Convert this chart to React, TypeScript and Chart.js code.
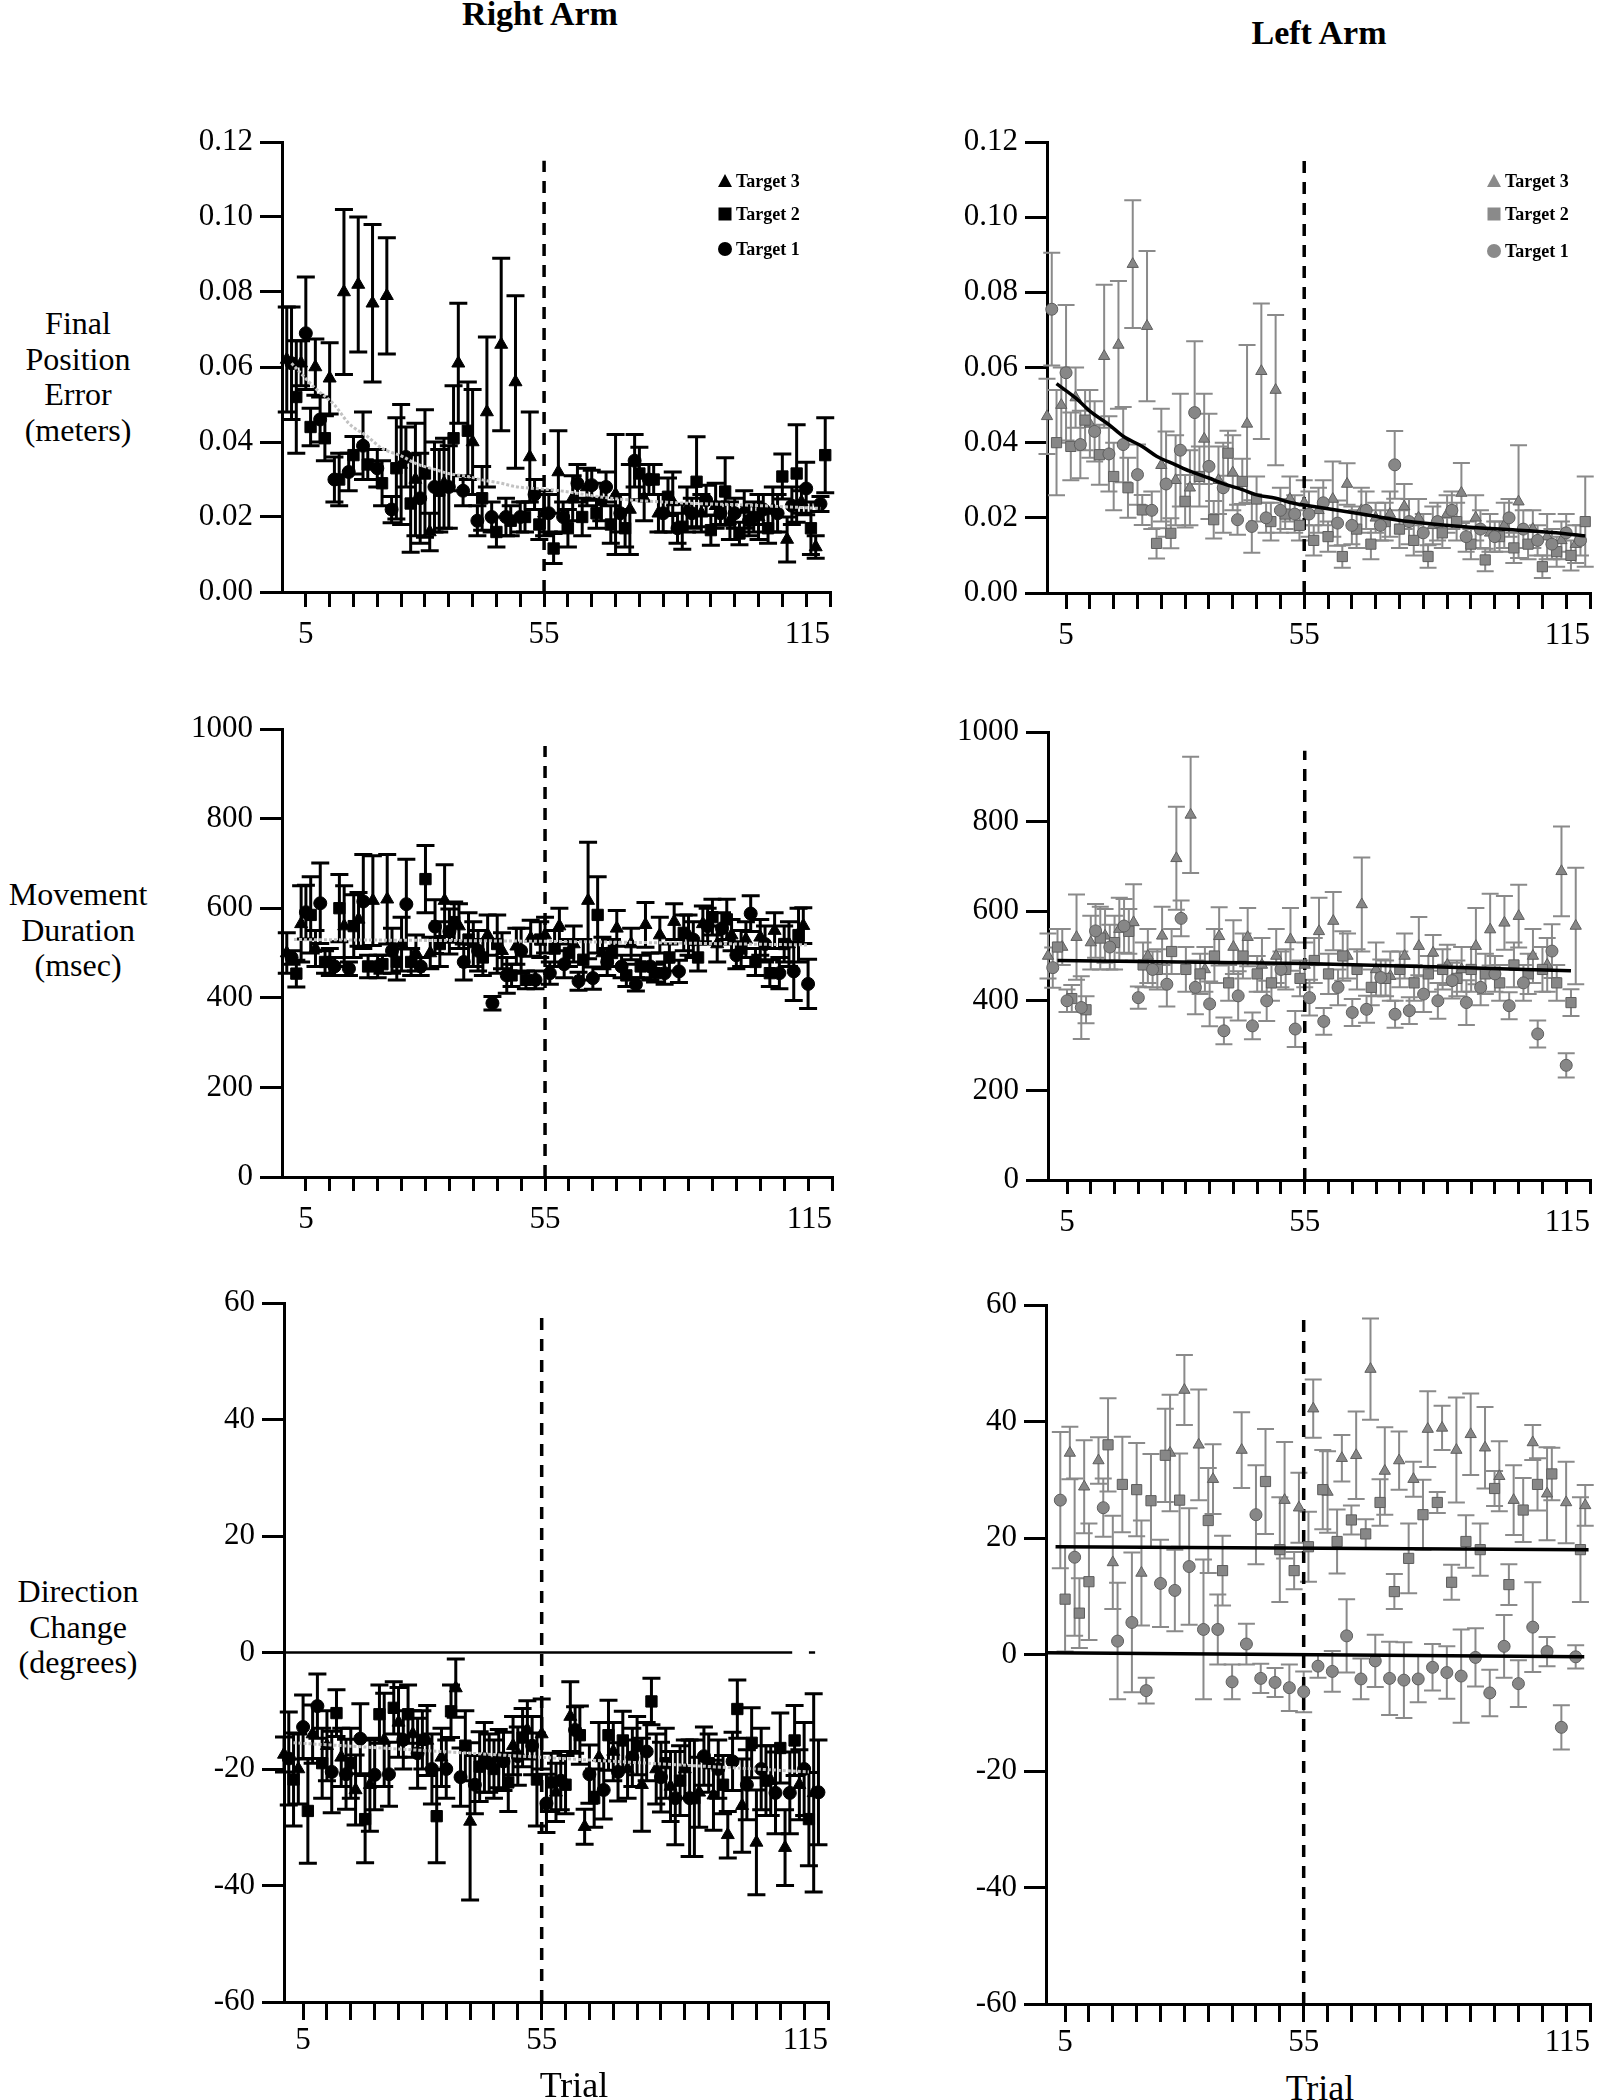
import React, { useEffect, useRef } from "react";
import { Chart, registerables } from "chart.js";

Chart.register(...registerables);

// ================= DATA =================
// Trial numbers at which each target was presented
const trialsTarget3 = [1, 4, 7, 10, 13, 16, 19, 22, 25, 28, 31, 34, 37, 40, 43, 46, 49, 52, 55, 58, 61, 64, 67, 70, 73, 76, 79, 82, 85, 88, 91, 94, 97, 100, 103, 106, 109, 112];
const trialsTarget1 = [2, 5, 8, 11, 14, 17, 20, 23, 26, 29, 32, 35, 38, 41, 44, 47, 50, 53, 56, 59, 62, 65, 68, 71, 74, 77, 80, 83, 86, 89, 92, 95, 98, 101, 104, 107, 110, 113];
const trialsTarget2 = [3, 6, 9, 12, 15, 18, 21, 24, 27, 30, 33, 36, 39, 42, 45, 48, 51, 54, 57, 60, 63, 66, 69, 72, 75, 78, 81, 84, 87, 90, 93, 96, 99, 102, 105, 108, 111, 114];

// axis ticks
const xTickValues = [5, 10, 15, 20, 25, 30, 35, 40, 45, 50, 55, 60, 65, 70, 75, 80, 85, 90, 95, 100, 105, 110, 115];
const xLabeledTicks = [5, 55, 115];
const yTicksFPE = [0, 0.02, 0.04, 0.06, 0.08, 0.1, 0.12];
const yTicksMD = [0, 200, 400, 600, 800, 1000];
const yTicksDC = [-60, -40, -20, 0, 20, 40, 60];
const dividerTrial = 55;

// ---- Final position error, right arm (meters) ----
const fpeRightT3 = [0.062, 0.061, 0.060, 0.057, 0.080, 0.082, 0.077, 0.079, 0.034, 0.030, 0.016, 0.029, 0.061, 0.040, 0.048, 0.066, 0.056, 0.036, 0.021, 0.032, 0.025, 0.028, 0.024, 0.026, 0.022, 0.025, 0.021, 0.024, 0.022, 0.021, 0.023, 0.019, 0.022, 0.020, 0.022, 0.014, 0.024, 0.012];
const fpeRightT3Err = [0.014, 0.006, 0.0075, 0.0095, 0.022, 0.018, 0.021, 0.0155, 0.016, 0.015, 0.005, 0.012, 0.016, 0.014, 0.020, 0.023, 0.023, 0.012, 0.006, 0.011, 0.006, 0.005, 0.005, 0.016, 0.012, 0.006, 0.005, 0.008, 0.006, 0.005, 0.006, 0.005, 0.005, 0.006, 0.006, 0.006, 0.003, 0.003];
const fpeRightT1 = [0.061, 0.069, 0.046, 0.030, 0.032, 0.039, 0.033, 0.022, 0.036, 0.025, 0.028, 0.028, 0.027, 0.019, 0.020, 0.020, 0.020, 0.026, 0.021, 0.020, 0.029, 0.0285, 0.028, 0.021, 0.035, 0.030, 0.021, 0.017, 0.021, 0.0245, 0.021, 0.021, 0.019, 0.022, 0.021, 0.023, 0.0276, 0.0235];
const fpeRightT1Err = [0.015, 0.015, 0.006, 0.006, 0.005, 0.009, 0.005, 0.0035, 0.008, 0.012, 0.012, 0.011, 0.004, 0.004, 0.004, 0.005, 0.004, 0.004, 0.005, 0.004, 0.005, 0.004, 0.004, 0.005, 0.007, 0.004, 0.005, 0.004, 0.004, 0.004, 0.003, 0.004, 0.004, 0.004, 0.005, 0.005, 0.007, 0.002];
const fpeRightT2 = [0.052, 0.044, 0.041, 0.030, 0.0365, 0.034, 0.029, 0.033, 0.0236, 0.0316, 0.027, 0.041, 0.043, 0.025, 0.016, 0.019, 0.020, 0.018, 0.0116, 0.017, 0.020, 0.021, 0.018, 0.017, 0.0316, 0.030, 0.0254, 0.0174, 0.0294, 0.0165, 0.0268, 0.0156, 0.020, 0.017, 0.0308, 0.0316, 0.017, 0.0365];
const fpeRightT2Err = [0.015, 0.005, 0.006, 0.007, 0.005, 0.004, 0.006, 0.0135, 0.013, 0.017, 0.011, 0.014, 0.013, 0.0085, 0.004, 0.004, 0.004, 0.004, 0.004, 0.005, 0.005, 0.004, 0.005, 0.005, 0.007, 0.004, 0.005, 0.006, 0.012, 0.004, 0.009, 0.003, 0.004, 0.004, 0.006, 0.013, 0.007, 0.010];
const fpeRightFitTrials = [2, 7, 11, 14, 18, 21, 25, 28, 32, 35, 39, 42, 46, 49, 53, 57, 69, 83, 97, 113];
const fpeRightFitValues = [0.061, 0.0543, 0.0499, 0.045, 0.0414, 0.0383, 0.0363, 0.0343, 0.0327, 0.0316, 0.0308, 0.0299, 0.029, 0.0281, 0.0276, 0.0272, 0.025, 0.0238, 0.0232, 0.0223];

// ---- Final position error, left arm (meters) ----
const fpeLeftT3 = [0.047, 0.050, 0.052, 0.045, 0.063, 0.066, 0.0875, 0.071, 0.034, 0.030, 0.028, 0.041, 0.030, 0.032, 0.045, 0.059, 0.054, 0.025, 0.024, 0.022, 0.025, 0.029, 0.022, 0.020, 0.021, 0.023, 0.020, 0.018, 0.021, 0.0266, 0.020, 0.016, 0.018, 0.0243, 0.017, 0.015, 0.014, 0.013];
const fpeLeftT3Err = [0.010, 0.010, 0.008, 0.009, 0.019, 0.017, 0.017, 0.020, 0.015, 0.012, 0.010, 0.012, 0.009, 0.010, 0.021, 0.018, 0.020, 0.006, 0.006, 0.006, 0.010, 0.0055, 0.006, 0.004, 0.006, 0.006, 0.005, 0.005, 0.005, 0.008, 0.006, 0.005, 0.006, 0.015, 0.005, 0.006, 0.005, 0.005];
const fpeLeftT1 = [0.0755, 0.0586, 0.0395, 0.043, 0.037, 0.0395, 0.0315, 0.022, 0.029, 0.038, 0.048, 0.0337, 0.028, 0.0195, 0.0177, 0.020, 0.022, 0.021, 0.021, 0.024, 0.0186, 0.018, 0.022, 0.018, 0.0341, 0.019, 0.016, 0.019, 0.022, 0.015, 0.017, 0.015, 0.020, 0.017, 0.014, 0.013, 0.016, 0.014];
const fpeLeftT1Err = [0.015, 0.018, 0.009, 0.008, 0.010, 0.010, 0.008, 0.005, 0.014, 0.015, 0.019, 0.014, 0.012, 0.004, 0.007, 0.004, 0.006, 0.005, 0.006, 0.006, 0.006, 0.005, 0.005, 0.004, 0.009, 0.006, 0.005, 0.005, 0.005, 0.004, 0.005, 0.004, 0.005, 0.005, 0.004, 0.004, 0.005, 0.004];
const fpeLeftT2 = [0.040, 0.039, 0.046, 0.0368, 0.031, 0.028, 0.0221, 0.0132, 0.0159, 0.0244, 0.031, 0.0195, 0.0372, 0.0297, 0.025, 0.019, 0.021, 0.018, 0.014, 0.015, 0.0097, 0.017, 0.013, 0.019, 0.017, 0.014, 0.0097, 0.016, 0.019, 0.013, 0.0088, 0.015, 0.012, 0.013, 0.007, 0.011, 0.010, 0.019];
const fpeLeftT2Err = [0.014, 0.009, 0.008, 0.008, 0.009, 0.008, 0.004, 0.004, 0.004, 0.007, 0.008, 0.005, 0.006, 0.006, 0.006, 0.005, 0.004, 0.004, 0.004, 0.004, 0.003, 0.005, 0.004, 0.005, 0.005, 0.004, 0.003, 0.004, 0.005, 0.004, 0.003, 0.004, 0.004, 0.004, 0.003, 0.004, 0.004, 0.012];
const fpeLeftFitTrials = [3, 7, 10, 14, 17, 21, 24, 28, 31, 35, 38, 42, 45, 49, 52, 58, 68, 77, 88, 96, 107, 114];
const fpeLeftFitValues = [0.0557, 0.0519, 0.0484, 0.0448, 0.0417, 0.039, 0.0364, 0.0341, 0.0324, 0.0306, 0.0291, 0.0275, 0.0261, 0.0252, 0.0241, 0.0228, 0.0208, 0.019, 0.0177, 0.017, 0.0161, 0.0152];

// ---- Movement duration, right arm (msec) ----
const mdRightT3 = [500, 565, 510, 480, 560, 575, 617, 620, 520, 500, 500, 617, 560, 520, 540, 505, 515, 533, 540, 560, 520, 617, 500, 555, 520, 563, 540, 570, 540, 565, 520, 540, 530, 535, 550, 520, 561];
const mdRightT3Err = [45, 85, 40, 30, 90, 60, 100, 100, 60, 40, 35, 80, 50, 50, 45, 40, 40, 40, 40, 40, 40, 130, 35, 40, 35, 50, 40, 40, 45, 40, 40, 35, 40, 40, 40, 50, 40];
const mdRightT1 = [490, 591, 611, 470, 465, 615, 470, 505, 609, 470, 559, 548, 480, 505, 388, 450, 505, 440, 455, 475, 437, 444, 480, 470, 430, 470, 455, 459, 530, 560, 555, 495, 588, 520, 455, 459, 431];
const mdRightT1Err = [15, 60, 90, 20, 15, 105, 25, 50, 100, 20, 60, 50, 40, 45, 15, 40, 50, 20, 25, 30, 20, 25, 30, 25, 15, 30, 25, 25, 40, 40, 35, 30, 40, 40, 35, 65, 55];
const mdRightT2 = [454, 585, 480, 600, 560, 470, 475, 480, 480, 665, 520, 569, 530, 490, 520, 450, 440, 530, 510, 500, 485, 585, 500, 450, 470, 455, 490, 545, 490, 580, 575, 510, 480, 455, 520, 540];
const mdRightT2Err = [30, 85, 25, 75, 70, 25, 20, 40, 30, 75, 50, 45, 60, 40, 65, 25, 20, 40, 40, 30, 45, 85, 30, 25, 25, 20, 30, 40, 30, 40, 45, 40, 30, 30, 40, 60];
const mdRightFitTrials = [2.5, 55, 110];
const mdRightFitValues = [530, 526, 518];

// ---- Movement duration, left arm (msec) ----
const mdLeftT3 = [500, 520, 542, 530, 545, 560, 575, 500, 545, 718, 815, 470, 544, 520, 542, 480, 500, 537, 480, 555, 578, 500, 615, 470, 455, 500, 522, 507, 480, 470, 522, 559, 574, 589, 500, 480, 689, 567];
const mdLeftT3Err = [50, 40, 95, 60, 60, 70, 85, 60, 65, 115, 130, 50, 65, 60, 65, 60, 60, 70, 50, 75, 65, 50, 105, 60, 55, 50, 65, 40, 45, 50, 85, 80, 60, 70, 60, 60, 100, 130];
const mdLeftT1 = [474, 400, 385, 556, 520, 567, 407, 470, 437, 584, 430, 393, 333, 411, 344, 400, 470, 337, 407, 354, 430, 374, 381, 452, 370, 378, 415, 400, 445, 396, 430, 460, 389, 440, 326, 511, 256];
const mdLeftT1Err = [45, 25, 70, 60, 50, 60, 25, 40, 50, 40, 60, 50, 30, 55, 30, 45, 40, 40, 40, 30, 40, 30, 30, 40, 30, 30, 40, 40, 40, 50, 40, 40, 30, 40, 30, 60, 27];
const mdLeftT2 = [520, 405, 380, 540, 530, 555, 480, 470, 510, 470, 460, 500, 440, 500, 460, 440, 470, 450, 490, 460, 500, 470, 430, 450, 470, 440, 460, 470, 450, 470, 460, 440, 480, 460, 470, 440, 396];
const mdLeftT2Err = [40, 30, 30, 70, 60, 50, 50, 45, 50, 50, 45, 60, 40, 50, 40, 40, 45, 40, 50, 45, 55, 45, 40, 40, 40, 40, 40, 45, 40, 50, 45, 40, 50, 45, 50, 40, 30];
const mdLeftFitTrials = [3, 55, 82, 111];
const mdLeftFitValues = [490, 483, 476, 467];

// ---- Direction change, right arm (degrees) ----
const dcRightT3 = [-17.5, -20, -14, -16, -18, -23.6, -22.7, -15, -12, -14, -15.1, -18, -6.1, -29, -18, -18.2, -16, -13.3, -14, -24, -11, -29.9, -18, -17, -20, -22.7, -20, -23, -20, -24, -24.5, -31.3, -26.3, -32.6, -22, -33.5, -22.7, -24.1];
const dcRightT3Err = [3, 6, 5, 6, 5, 6, 8, 8, 6, 4, 6, 5, 5, 13.5, 6, 5, 5, 5, 6, 5, 6, 3, 6, 5, 5, 8, 6, 6, 5, 6, 6, 4, 8, 9, 6, 6.5, 6, 17];
const dcRightT1 = [-18.2, -12.8, -9.2, -20.5, -20.9, -14.8, -21, -20.9, -15, -17.3, -20, -20, -21.4, -22.7, -19, -18.7, -17.8, -16, -25.9, -22, -13.3, -20.9, -23.6, -20.5, -18, -17, -21.4, -25, -25, -17.8, -20, -18.7, -22.7, -20, -24.1, -24.1, -20, -24];
const dcRightT1Err = [8, 5.5, 5.5, 7, 6, 6, 6, 5.5, 5, 6, 6, 5, 5, 5, 5, 5, 5, 5, 5, 5, 4, 5, 5, 5, 5, 5, 6, 8, 10, 5, 5, 5, 6, 7, 7, 7, 8, 9];
const dcRightT2 = [-21.8, -27.2, -19, -10.4, -19, -28.6, -10.6, -9.5, -10.6, -15, -28.1, -10.1, -16, -19.6, -20, -22.3, -14.6, -21.8, -22.3, -22.7, -14.2, -25, -14.2, -15.1, -16, -8.4, -19, -22, -25, -19, -22.7, -9.7, -15.5, -22, -16.4, -15.1, -28.6];
const dcRightT2Err = [8, 9, 6, 4, 6, 7.5, 5, 4.5, 5, 5, 8, 4.5, 6, 6, 5, 5, 5, 8, 5, 5, 5, 5, 6, 5, 5, 4, 6, 6, 10, 5, 5, 5, 6, 6, 6, 6, 8];
const dcRightFitTrials = [3, 55, 111];
const dcRightFitValues = [-15.5, -18, -20.5];
const dcRightZeroTrials = [1, 107.5];
const dcRightZeroValues = [0, 0];
const dcRightZeroTailTrials = [111, 112.3];
const dcRightZeroTailValues = [0, 0];

// ---- Direction change, left arm (degrees) ----
const dcLeftT3Trials = [6, 9, 12, 15, 21, 27, 30, 33, 36, 42, 51, 54, 57, 60, 63, 66, 69, 72, 75, 78, 81, 84, 87, 90, 93, 96, 99, 103, 106, 110, 114];
const dcLeftT3 = [34.6, 28.8, 33.3, 15.8, 14, 34.6, 45.4, 36, 30.1, 35.1, 26.5, 25.2, 42.2, 27.9, 33.7, 34.2, 49, 31.5, 33.3, 30.1, 38.7, 38.9, 35.1, 37.8, 35.5, 30.6, 26.5, 36.4, 27.6, 26.1, 25.6];
const dcLeftT3Err = [4.5, 8, 4, 8, 9, 10, 6, 9.5, 6, 6.5, 10, 6, 5, 7, 4, 7.5, 8.7, 7.5, 5, 3, 6.5, 3.8, 9, 7, 7, 6, 6, 3, 8, 7, 3.5];
const dcLeftT2Trials = [5, 8, 10, 14, 17, 20, 23, 26, 29, 35, 38, 47, 50, 53, 56, 59, 62, 65, 68, 71, 74, 77, 80, 83, 86, 89, 92, 95, 98, 101, 104, 107, 113];
const dcLeftT2 = [9.5, 7.1, 12.5, 36, 29.2, 28.3, 26.4, 34.2, 26.5, 23, 14.4, 29.7, 18, 14.4, 18.5, 28.3, 19.4, 23.1, 20.7, 26.1, 10.8, 16.5, 24, 26.1, 12.4, 19.4, 18, 28.5, 12, 24.8, 29.2, 31, 18];
const dcLeftT2Err = [9, 6, 10, 8, 8.2, 8, 8, 8, 8, 9, 6, 9, 9, 3.2, 6, 6.8, 5.5, 2.5, 2.5, 4, 3, 6, 6, 1.8, 3, 4.5, 4.5, 3, 3.5, 5.5, 4.5, 4.5, 9];
const dcLeftT1Trials = [4, 7, 13, 16, 19, 22, 25, 28, 31, 34, 37, 40, 43, 45, 46, 49, 52, 55, 58, 61, 64, 67, 70, 73, 76, 79, 82, 85, 88, 91, 94, 97, 100, 103, 106, 109, 112];
const dcLeftT1 = [26.5, 16.7, 25.2, 2.3, 5.5, -6.2, 12.2, 11, 15.1, 4.3, 4.3, -4.7, 1.8, 24, -4.1, -4.8, -5.7, -6.4, -2, -2.9, 3.2, -4.2, -1.1, -4.1, -4.4, -4.2, -2.2, -3.1, -3.7, -0.5, -6.6, 1.4, -5, 4.7, 0.5, -12.5, -0.4];
const dcLeftT1Err = [11.7, 13.5, 5, 10, 12, 2.2, 7.5, 7, 10, 12, 6, 3, 3.5, 8.5, 2.5, 2.5, 4, 3.5, 2, 3.5, 6.3, 3.5, 4.5, 6.3, 6.5, 4, 4, 4.5, 8, 5, 4, 5.4, 4, 7.7, 2.5, 3.8, 2];
const dcLeftFitUpperTrials = [3, 114.7];
const dcLeftFitUpperValues = [18.5, 18.0];
const dcLeftFitLowerTrials = [1, 113.8];
const dcLeftFitLowerValues = [0.3, -0.4];

// ================= LAYOUT / STYLE =================
const PAD_L = 120;
const PAD_T = 30;
const PAD_R = 30;
const PAD_B = 64;
const TICK_FONT = { family: '"Liberation Serif", "Times New Roman", serif', size: 31 };

const LEFT_STYLE = {
  fill: "#000", stroke: "#000", strokeWidth: 1,
  err: "#000", errWidth: 3, cap: 9,
  r: { circle: 6.5, rect: 8, triangle: 7.5 },
};
const RIGHT_STYLE = {
  fill: "#878787", stroke: "#5e5e5e", strokeWidth: 1,
  err: "#8a8a8a", errWidth: 2, cap: 8.5,
  r: { circle: 6, rect: 7.2, triangle: 6.5 },
};
const FIT_DOTTED = { color: "#c2c2c2", width: 3, dash: [3, 2] };
const FIT_SOLID = { color: "#000", width: 3.5, dash: [] as number[] };
const FIT_ZERO = { color: "#000", width: 2.5, dash: [] as number[] };

const fmt2 = (v: number) => v.toFixed(2);
const fmt0 = (v: number) => String(Math.round(v));

const PANELS = [
  {
    id: "fpeRight", side: "left", l: 282, t: 142, r: 830, b: 592, xMin: 0,
    yMin: 0, yMax: 0.12, yTicks: yTicksFPE, yFmt: fmt2, xTickLen: 15, xTickPad: 9, dividerTop: 0.115,
    t3: { trials: trialsTarget3, values: fpeRightT3, errors: fpeRightT3Err },
    t2: { trials: trialsTarget2, values: fpeRightT2, errors: fpeRightT2Err },
    t1: { trials: trialsTarget1, values: fpeRightT1, errors: fpeRightT1Err },
    fits: [{ trials: fpeRightFitTrials, values: fpeRightFitValues, style: FIT_DOTTED }],
  },
  {
    id: "fpeLeft", side: "right", l: 1047, t: 142, r: 1590, b: 593, xMin: 1,
    yMin: 0, yMax: 0.12, yTicks: yTicksFPE, yFmt: fmt2, xTickLen: 16, xTickPad: 8, dividerTop: 0.115,
    t3: { trials: trialsTarget3, values: fpeLeftT3, errors: fpeLeftT3Err },
    t2: { trials: trialsTarget2, values: fpeLeftT2, errors: fpeLeftT2Err },
    t1: { trials: trialsTarget1, values: fpeLeftT1, errors: fpeLeftT1Err },
    fits: [{ trials: fpeLeftFitTrials, values: fpeLeftFitValues, style: FIT_SOLID }],
  },
  {
    id: "mdRight", side: "left", l: 282, t: 729, r: 832, b: 1177, xMin: 0,
    yMin: 0, yMax: 1000, yTicks: yTicksMD, yFmt: fmt0, xTickLen: 14, xTickPad: 10, dividerTop: 962,
    t3: { trials: trialsTarget3, values: mdRightT3, errors: mdRightT3Err },
    t2: { trials: trialsTarget2, values: mdRightT2, errors: mdRightT2Err },
    t1: { trials: trialsTarget1, values: mdRightT1, errors: mdRightT1Err },
    fits: [{ trials: mdRightFitTrials, values: mdRightFitValues, style: FIT_DOTTED }],
  },
  {
    id: "mdLeft", side: "right", l: 1048, t: 732, r: 1590, b: 1180, xMin: 1,
    yMin: 0, yMax: 1000, yTicks: yTicksMD, yFmt: fmt0, xTickLen: 14, xTickPad: 10, dividerTop: 958,
    t3: { trials: trialsTarget3, values: mdLeftT3, errors: mdLeftT3Err },
    t2: { trials: trialsTarget2, values: mdLeftT2, errors: mdLeftT2Err },
    t1: { trials: trialsTarget1, values: mdLeftT1, errors: mdLeftT1Err },
    fits: [{ trials: mdLeftFitTrials, values: mdLeftFitValues, style: FIT_SOLID }],
  },
  {
    id: "dcRight", side: "left", l: 284, t: 1303, r: 828, b: 2002, xMin: 1,
    yMin: -60, yMax: 60, yTicks: yTicksDC, yFmt: fmt0, xTickLen: 18, xTickPad: 2, dividerTop: 58,
    t3: { trials: trialsTarget3, values: dcRightT3, errors: dcRightT3Err },
    t2: { trials: trialsTarget2, values: dcRightT2, errors: dcRightT2Err },
    t1: { trials: trialsTarget1, values: dcRightT1, errors: dcRightT1Err },
    fits: [
      { trials: dcRightZeroTrials, values: dcRightZeroValues, style: FIT_ZERO },
      { trials: dcRightZeroTailTrials, values: dcRightZeroTailValues, style: FIT_ZERO },
      { trials: dcRightFitTrials, values: dcRightFitValues, style: FIT_DOTTED },
    ],
  },
  {
    id: "dcLeft", side: "right", l: 1046, t: 1305, r: 1590, b: 2004, xMin: 1,
    yMin: -60, yMax: 60, yTicks: yTicksDC, yFmt: fmt0, xTickLen: 18, xTickPad: 2, dividerTop: 58,
    t3: { trials: dcLeftT3Trials, values: dcLeftT3, errors: dcLeftT3Err },
    t2: { trials: dcLeftT2Trials, values: dcLeftT2, errors: dcLeftT2Err },
    t1: { trials: dcLeftT1Trials, values: dcLeftT1, errors: dcLeftT1Err },
    fits: [
      { trials: dcLeftFitUpperTrials, values: dcLeftFitUpperValues, style: FIT_SOLID },
      { trials: dcLeftFitLowerTrials, values: dcLeftFitLowerValues, style: FIT_SOLID },
    ],
  },
];

// Error bars drawn through the chart's own scales
const errorBarPlugin = {
  id: "errorBars",
  beforeDatasetsDraw(chart: any) {
    const { ctx } = chart;
    const xs = chart.scales.x;
    const ys = chart.scales.y;
    chart.data.datasets.forEach((ds: any) => {
      if (!ds.errors) return;
      ctx.save();
      ctx.strokeStyle = ds.errorColor;
      ctx.lineWidth = ds.errorWidth;
      ctx.lineCap = "butt";
      ds.data.forEach((p: any, j: number) => {
        const e = ds.errors[j];
        if (e == null) return;
        const px = xs.getPixelForValue(p.x);
        const pt = ys.getPixelForValue(p.y + e);
        const pb = ys.getPixelForValue(p.y - e);
        const c = ds.capHalf;
        ctx.beginPath();
        ctx.moveTo(px, pt);
        ctx.lineTo(px, pb);
        ctx.moveTo(px - c, pt);
        ctx.lineTo(px + c, pt);
        ctx.moveTo(px - c, pb);
        ctx.lineTo(px + c, pb);
        ctx.stroke();
      });
      ctx.restore();
    });
  },
};

function buildConfig(p: any) {
  const st = p.side === "left" ? LEFT_STYLE : RIGHT_STYLE;
  const markerSet = (s: any, style: string, radius: number, label: string) => ({
    label,
    data: s.values.map((v: number, i: number) => ({ x: s.trials[i], y: v })),
    errors: s.errors,
    errorColor: st.err,
    errorWidth: st.errWidth,
    capHalf: st.cap,
    showLine: false,
    pointStyle: style,
    pointRadius: radius,
    pointHoverRadius: radius,
    pointBackgroundColor: st.fill,
    pointBorderColor: st.stroke,
    pointBorderWidth: st.strokeWidth,
    clip: false,
    order: 2,
  });
  const lineSet = (f: any, i: number) => ({
    label: "fit" + i,
    data: f.values.map((v: number, k: number) => ({ x: f.trials[k], y: v })),
    showLine: true,
    pointRadius: 0,
    borderColor: f.style.color,
    borderWidth: f.style.width,
    borderDash: f.style.dash,
    cubicInterpolationMode: "monotone",
    fill: false,
    clip: false,
    order: 0,
  });
  const divider = {
    label: "divider",
    data: [
      { x: dividerTrial, y: p.yMin },
      { x: dividerTrial, y: p.dividerTop },
    ],
    showLine: true,
    pointRadius: 0,
    borderColor: "#000",
    borderWidth: 3.5,
    borderDash: [12, 9],
    fill: false,
    order: 3,
  };
  const datasets = [
    ...p.fits.map(lineSet),
    markerSet(p.t1, "circle", st.r.circle, "Target 1"),
    markerSet(p.t2, "rect", st.r.rect, "Target 2"),
    markerSet(p.t3, "triangle", st.r.triangle, "Target 3"),
    divider,
  ];
  const xTicksWithStart = [p.xMin, ...xTickValues];
  return {
    type: "scatter",
    data: { datasets },
    options: {
      animation: false,
      responsive: false,
      devicePixelRatio: 1,
      events: [],
      layout: { padding: { left: 0, top: PAD_T, right: PAD_R, bottom: 0 } },
      plugins: { legend: { display: false }, tooltip: { enabled: false } },
      scales: {
        x: {
          type: "linear",
          min: p.xMin,
          max: 115,
          afterBuildTicks: (ax: any) => {
            ax.ticks = xTicksWithStart.map((v) => ({ value: v }));
          },
          afterFit: (ax: any) => {
            ax.height = PAD_B;
          },
          ticks: {
            autoSkip: false,
            maxRotation: 0,
            minRotation: 0,
            align: "inner",
            padding: p.xTickPad,
            color: "#000",
            font: TICK_FONT,
            callback: (v: any) => (xLabeledTicks.includes(Number(v)) ? String(v) : ""),
          },
          grid: {
            drawOnChartArea: false,
            drawTicks: true,
            tickLength: p.xTickLen,
            lineWidth: 3,
            tickWidth: 3,
            color: "#000",
            tickColor: (ctx: any) => (ctx.tick && ctx.tick.value === p.xMin ? "rgba(0,0,0,0)" : "#000"),
          },
          border: { display: true, color: "#000", width: 3 },
        },
        y: {
          type: "linear",
          min: p.yMin,
          max: p.yMax,
          afterBuildTicks: (ax: any) => {
            ax.ticks = p.yTicks.map((v: number) => ({ value: v }));
          },
          afterFit: (ax: any) => {
            ax.width = PAD_L;
          },
          ticks: {
            padding: 7,
            color: "#000",
            font: TICK_FONT,
            callback: (v: any) => p.yFmt(Number(v)),
          },
          grid: {
            drawOnChartArea: false,
            drawTicks: true,
            tickLength: 22,
            lineWidth: 3,
            tickWidth: 3,
            color: "#000",
            tickColor: "#000",
          },
          border: { display: true, color: "#000", width: 3 },
        },
      },
    },
    plugins: [errorBarPlugin],
  };
}

function PanelChart({ panel }: { panel: any }) {
  const ref = useRef<HTMLCanvasElement | null>(null);
  const w = panel.r - panel.l + PAD_L + PAD_R;
  const h = panel.b - panel.t + PAD_T + PAD_B;
  useEffect(() => {
    if (!ref.current) return;
    const chart = new Chart(ref.current, buildConfig(panel) as any);
    return () => chart.destroy();
  }, [panel]);
  return (
    <canvas
      ref={ref}
      width={w}
      height={h}
      style={{ position: "absolute", left: panel.l - PAD_L, top: panel.t - PAD_T, width: w, height: h }}
    />
  );
}

function LegendMarker({ kind, color }: { kind: string; color: string }) {
  return (
    <svg width={16} height={16} style={{ display: "block" }}>
      {kind === "triangle" && <polygon points="8,1 15,14 1,14" fill={color} />}
      {kind === "rect" && <rect x={1.5} y={1.5} width={13} height={13} fill={color} />}
      {kind === "circle" && <circle cx={8} cy={8} r={7} fill={color} />}
    </svg>
  );
}

const legendItems = [
  { kind: "triangle", label: "Target 3" },
  { kind: "rect", label: "Target 2" },
  { kind: "circle", label: "Target 1" },
];

function Legend({ x, ys, color }: { x: number; ys: number[]; color: string }) {
  return (
    <>
      {legendItems.map((it, i) => (
        <div
          key={it.label}
          style={{
            position: "absolute",
            left: x - 8,
            top: ys[i] - 10,
            height: 20,
            display: "flex",
            alignItems: "center",
            whiteSpace: "nowrap",
          }}
        >
          <LegendMarker kind={it.kind} color={color} />
          <span style={{ marginLeft: 3, fontWeight: "bold", fontSize: 18, lineHeight: "20px" }}>{it.label}</span>
        </div>
      ))}
    </>
  );
}

const textBase: any = { position: "absolute", textAlign: "center", whiteSpace: "nowrap" };

export default function App() {
  return (
    <div
      style={{
        position: "absolute",
        left: 0,
        top: 0,
        width: 1603,
        height: 2100,
        overflow: "hidden",
        background: "#fff",
        color: "#000",
        fontFamily: '"Liberation Serif", "Times New Roman", serif',
      }}
    >
      {PANELS.map((p) => (
        <PanelChart key={p.id} panel={p} />
      ))}

      <div style={{ ...textBase, left: 390, top: -3, width: 300, fontWeight: "bold", fontSize: 34, lineHeight: "34px" }}>Right Arm</div>
      <div style={{ ...textBase, left: 1169, top: 16, width: 300, fontWeight: "bold", fontSize: 34, lineHeight: "34px" }}>Left Arm</div>

      <div style={{ ...textBase, left: 0, top: 306, width: 156, fontSize: 32, lineHeight: "35.5px" }}>
        Final<br />Position<br />Error<br />(meters)
      </div>
      <div style={{ ...textBase, left: 0, top: 877, width: 156, fontSize: 32, lineHeight: "35.5px" }}>
        Movement<br />Duration<br />(msec)
      </div>
      <div style={{ ...textBase, left: 0, top: 1574, width: 156, fontSize: 32, lineHeight: "35.5px" }}>
        Direction<br />Change<br />(degrees)
      </div>

      <div style={{ ...textBase, left: 474, top: 2067, width: 200, fontSize: 36, lineHeight: "36px" }}>Trial</div>
      <div style={{ ...textBase, left: 1220, top: 2070, width: 200, fontSize: 36, lineHeight: "36px" }}>Trial</div>

      <Legend x={725} ys={[181, 214, 249]} color="#000" />
      <Legend x={1494} ys={[181, 214, 251]} color="#8a8a8a" />
    </div>
  );
}
